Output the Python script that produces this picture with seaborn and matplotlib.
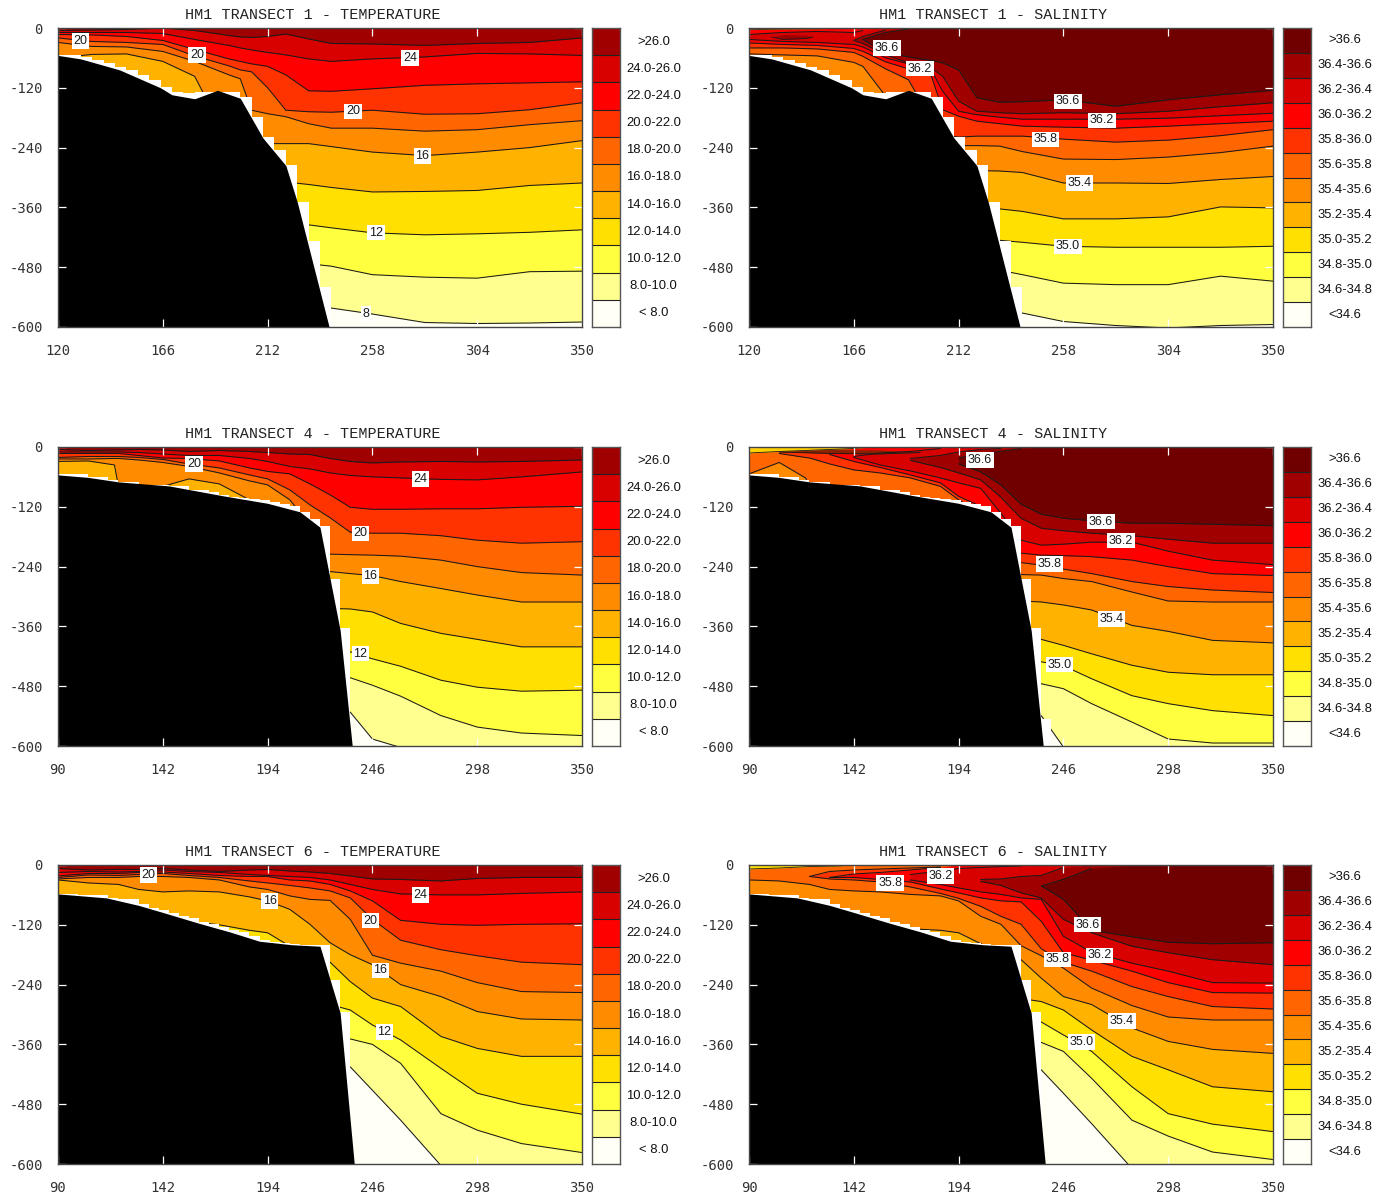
import numpy as np
import matplotlib
matplotlib.use("Agg")
import matplotlib.pyplot as plt
from matplotlib.colors import ListedColormap
import seaborn as sns

N = float("nan")
sns.set_theme(style="white")
plt.rcParams['font.family'] = ['Liberation Sans', 'DejaVu Sans']

# ---- colours / legend text
colors_sal = ['#fffff6', '#ffff90', '#ffff40', '#ffe000', '#ffb300', '#ff8c00',
              '#ff6600', '#ff3300', '#ff0000', '#d90000', '#a00000', '#700000']
colors_tem = colors_sal[:-1]
labels_tem = ['< 8.0', '8.0-10.0', '10.0-12.0', '12.0-14.0', '14.0-16.0', '16.0-18.0',
              '18.0-20.0', '20.0-22.0', '22.0-24.0', '24.0-26.0', '>26.0']
labels_sal = ['<34.6', '34.6-34.8', '34.8-35.0', '35.0-35.2', '35.2-35.4', '35.4-35.6',
              '35.6-35.8', '35.8-36.0', '36.0-36.2', '36.2-36.4', '36.4-36.6', '>36.6']

# ---- bathymetry (x, depth) and stepped model grid
bathy1_x = [120, 130, 147, 156, 165, 170, 180, 190, 200, 210, 220, 225, 239]
bathy1_d = [55, 62, 84, 102, 120, 134, 142, 125, 141, 221, 276, 349, 600]
grid1_x = [120, 130, 135, 140, 145, 150, 155, 160, 165, 170, 175, 180, 185, 190, 195, 200, 205, 210, 215, 220, 225, 230, 235, 240]
grid1_d = [55, 59, 64, 70, 78, 84, 94, 104, 119, 129, 131, 128, 128, 128, 128, 139, 179, 219, 244, 274, 349, 428, 519, 600]

bathy4_x = [90, 105, 120, 145, 172, 194, 210, 220, 230, 236]
bathy4_d = [56, 61, 70, 78, 98, 113, 130, 161, 368, 600]
grid4_x = [90, 105, 115, 120, 130, 145, 155, 165, 170, 175, 180, 185, 190, 195, 200, 205, 210, 215, 220, 225, 230, 235]
grid4_d = [55, 60, 67, 70, 76, 79, 86, 90, 96, 100, 102, 104, 106, 110, 114, 119, 130, 144, 159, 265, 364, 600]
grid4s_x = grid4_x + [240]
grid4s_d = grid4_d[:-1] + [545, 600]

bathy6_x = [90, 114, 130, 141, 160, 175, 190, 206, 220, 230, 237]
bathy6_d = [58, 66, 81, 94, 117, 134, 153, 160, 163, 297, 600]
grid6_x = [90, 100, 115, 120, 130, 135, 140, 145, 150, 155, 160, 165, 170, 175, 180, 185, 190, 195, 200, 205, 210, 215, 220, 225, 230, 235]
grid6_d = [58, 60, 66, 69, 79, 86, 91, 96, 103, 106, 115, 119, 124, 131, 135, 143, 151, 155, 156, 158, 160, 160, 160, 230, 295, 600]

# ---- transect 1 temperature
t1_x = [120, 135, 150, 166, 180, 195, 200, 205, 212, 220, 230, 240, 258, 281, 304, 327, 350]
t1_8 = [555] * 11 + [562, 574, 591, 593, 592, 590]
t1_10 = [473] * 11 + [478, 495, 500, 502, 489, 488]
t1_12 = [395] * 11 + [401, 411, 415, 413, 410, 405]
t1_14 = [309] * 10 + [314, 320, 329, 328, 326, 316, 311]
t1_16 = [60, 53, 52, 67, 97, 230, 230, 230, 232, 232, 232, 238, 249, 256, 249, 240, 226]
t1_18 = [29, 37, 38, 47, 67, 94, 102, 165, 172, 178, 192, 201, 201, 207, 204, 194, 186]
t1_20 = [20, 27, 29, 33, 56, 76, 84, 88, 120, 165, 168, 169, 165, 173, 172, 164, 150]
t1_22 = [13, 14, 17, 25, 43, 62, 67, 72, 77, 94, 126, 127, 122, 115, 112, 110, 108]
t1_24 = [9, 9, 9, 11, 23, 35, 40, 44, 49, 54, 62, 67, 62, 58, 51, 52, 55]
t1_26 = [5, 4, 3, 0, 5, 15, 18, 19, 17, 12, 22, 31, 32, 35, 31, 29, 20]

# ---- transect 1 salinity
s1_x = [120, 135, 150, 166, 170, 180, 190, 195, 200, 205, 212, 220, 230, 240, 258, 281, 304, 327, 350]
s1_346 = [572] * 13 + [572, 589, 597, 602, 597, 595]
s1_348 = [486] * 13 + [495, 512, 515, 515, 498, 508]
s1_350 = [426] * 13 + [430, 438, 440, 440, 440, 438]
s1_352 = [363] * 13 + [368, 383, 383, 379, 359, 361]
s1_354 = [286] * 12 + [287, 290, 311, 311, 312, 304, 298]
s1_356 = [52, 54, 56, 69, 77, 137, 184, 197, 211, 224, 236, 236, 237, 248, 263, 264, 259, 250, 237]
s1_358 = [40, 40, 42, 49, 57, 82, 104, 144, 184, 214, 219, 217, 217, 217, 223, 229, 225, 216, 204]
s1_360 = [30, 33, 35, 41, 47, 68, 82, 87, 96, 164, 177, 187, 192, 197, 199, 201, 197, 192, 187]
s1_362 = [23, 27, 29, 33, 38, 60, 72, 77, 84, 127, 167, 174, 179, 183, 183, 183, 181, 176, 171]
s1_362top = [13, 9, 7, 9, 5] + [0] * 14
s1_364 = [N, N, N, 25, 31, 54, 70, 74, 80, 97, 147, 167, 170, 172, 170, 172, 167, 158, 150]
s1_364top = [N, N, N, 25, 17, 4] + [0] * 13
s1_366 = [N, N, N, N, 23, 50, 58, 62, 65, 70, 84, 140, 149, 148, 144, 157, 144, 134, 125]
s1_366top = [N, N, N, N, 23, 9, 2] + [0] * 12
s1_lens1 = ([120, 135, 150, 166], [0, 0, 0, 0], [3, 2, 1.5, 0], '#e0c000')
s1_lens2 = ([130, 135, 145, 148], [18, 13, 14, 18], [18, 23, 21, 18], '#a00000')

# ---- transect 4 temperature
r2_x = [90, 105, 118, 120, 130, 142, 155, 170, 185, 194, 205, 215, 225, 235, 246, 260, 280, 298, 320, 350]
t4_8 = [532] * 14 + [586, 603, 640, 640, 640, 640]
t4_10 = [463] * 14 + [478, 500, 539, 562, 574, 579]
t4_12 = [411] * 14 + [425, 440, 468, 482, 490, 488]
t4_14 = [324] * 13 + [325, 331, 354, 374, 386, 401, 401]
t4_16 = [29, 28, 36, 79, 79, 79, 64, 74, 106, 150, 183, 217, 250, 254, 258, 270, 284, 297, 311, 311]
t4_18 = [24, 24, 23, 23, 26, 31, 39, 52, 68, 76, 106, 156, 215, 216, 217, 219, 227, 240, 252, 257]
t4_20 = [21, 19, 19, 19, 21, 25, 34, 42, 56, 64, 86, 116, 142, 171, 173, 173, 178, 187, 193, 190]
t4_22 = [13, 13, 13, 13, 17, 22, 23, 28, 42, 49, 54, 74, 96, 121, 125, 125, 124, 124, 121, 119]
t4_24 = [10, 10, 10, 10, 11, 14, 17, 17, 23, 29, 39, 44, 52, 57, 60, 62, 65, 66, 60, 50]
t4_26 = [5, 7, 6, 6, 5, 6, 9, 7, 9, 11, 14, 15, 23, 29, 32, 30, 29, 30, 29, 26]

# ---- transect 4 salinity
s4_346 = [539] * 14 + [602, 640, 640, 640, 640, 640]
s4_348 = [475] * 14 + [485, 515, 552, 586, 594, 594]
s4_350 = [431] * 14 + [439, 465, 499, 515, 529, 539]
s4_352 = [386] * 14 + [398, 415, 438, 452, 457, 457]
s4_354 = [309] * 13 + [311, 317, 327, 358, 370, 388, 393]
s4_356 = [54, 31, 62, 76, 89, 93, 96, 109, 123, 136, 156, 203, 256, 257, 264, 270, 291, 309, 311, 311]
s4_358 = [N, 13, 21, 22, 34, 46, 52, 62, 79, 106, 133, 183, 232, 237, 245, 254, 270, 280, 287, 292]
s4_360 = [N, N, N, N, 15, 29, 41, 56, 72, 99, 119, 156, 213, 217, 218, 220, 227, 240, 254, 258]
s4_362 = [N] * 5 + [21, 36, 48, 62, 72, 83, 133, 187, 197, 195, 191, 191, 209, 227, 236]
s4_362top = [N] * 5 + [19, 12, 9, 3] + [0] * 11
s4_364 = [N] * 7 + [27, 41, 52, 66, 101, 143, 163, 168, 173, 178, 185, 193, 193]
s4_364top = [N] * 7 + [23, 17, 10, 5, 3] + [0] * 8
s4_366 = [N] * 9 + [34, 50, 76, 115, 135, 143, 148, 153, 153, 155, 158]
s4_366top = [N] * 9 + [22, 13, 9, 3] + [0] * 7
s4_lens1 = ([90, 105, 130, 142, 150], [0, 0, 0, 0, 0], [12, 9, 5, 3, 0], '#ffd000')
s4_lens2 = ([105, 130, 155, 175], [9, 5, 6, 10], [10, 13, 14, 11], '#8a2000')

# ---- transect 6 temperature
r3_x = [90, 105, 120, 130, 142, 155, 170, 185, 194, 205, 215, 225, 235, 246, 260, 280, 298, 320, 350]
t6_8 = [405] * 13 + [452, 512, 603, 640, 640, 640]
t6_10 = [349] * 13 + [360, 398, 499, 532, 559, 577]
t6_12 = [280] * 12 + [291, 321, 351, 408, 458, 480, 500]
t6_14 = [62, 66, 76, 89, 99, 113, 120, 131, 136, 163, 170, 195, 234, 267, 284, 344, 368, 384, 384]
t6_16 = [30, 36, 39, 49, 54, 52, 54, 64, 72, 89, 119, 156, 180, 200, 240, 264, 294, 309, 311]
t6_18 = [28, 25, 25, 23, 23, 25, 30, 44, 49, 62, 69, 71, 109, 181, 197, 213, 236, 254, 256]
t6_20 = [25, 20, 21, 19, 17, 21, 25, 32, 36, 41, 46, 52, 66, 109, 151, 170, 182, 195, 200]
t6_22 = [22, 17, 17, 15, 14, 17, 21, 23, 23, 30, 32, 39, 52, 72, 111, 119, 121, 119, 118]
t6_24 = [15, 13, 14, 13, 10, 13, 15, 19, 21, 23, 25, 30, 39, 49, 58, 60, 60, 57, 54]
t6_26 = [7, 10, 9, 9, 7, 10, 13, 10, 9, 12, 14, 17, 22, 28, 29, 32, 27, 25, 25]

# ---- transect 6 salinity
s6_346 = [411] * 13 + [458, 519, 609, 640, 640, 640]
s6_348 = [356] * 13 + [374, 428, 512, 544, 576, 591]
s6_350 = [315] * 13 + [341, 374, 445, 499, 520, 535]
s6_352 = [268] * 12 + [274, 291, 331, 384, 411, 445, 455]
s6_354 = [66, 69, 83, 96, 109, 120, 128, 131, 136, 158, 173, 190, 227, 264, 280, 327, 354, 370, 378]
s6_356 = [30, 32, 39, 49, 52, 54, 59, 62, 72, 103, 119, 162, 182, 207, 247, 282, 305, 311, 311]
s6_358 = [N, N, 23, 28, 30, 34, 44, 57, 67, 83, 103, 119, 168, 195, 213, 244, 264, 284, 289]
s6_358top = [N, N, 23, 13, 10, 8, 6, 4] + [0] * 11
s6_360 = [N, N, N, 25, 25, 29, 34, 48, 56, 66, 72, 74, 113, 176, 191, 213, 236, 256, 257]
s6_360top = [N, N, N, 25, 18, 15, 10, 5] + [0] * 11
s6_362 = [N] * 6 + [30, 39, 46, 54, 59, 66, 69, 143, 175, 197, 213, 236, 237]
s6_362top = [N] * 6 + [19, 12, 7, 5, 3, 2] + [0] * 7
s6_364 = [N] * 9 + [33, 41, 56, 66, 109, 136, 163, 176, 190, 200]
s6_364top = [N] * 9 + [29, 28, 23, 21, 5] + [0] * 5
s6_366 = [N] * 12 + [42, 69, 131, 144, 155, 158, 156]
s6_366top = [N] * 12 + [42, 29, 7] + [0] * 4
s6_lens1 = ([90, 105, 120, 135, 142], [0, 0, 0, 0, 0], [8, 6, 3, 2, 0], '#ffe000')

# ---- contour labels (text, x, depth)
lab_t1 = [('20', 130, 26), ('20', 181, 54), ('24', 274.5, 60), ('20', 249.5, 167), ('16', 280, 257), ('12', 259.6, 411), ('8', 255, 574)]
lab_s1 = [('36.6', 180.6, 40), ('36.2', 195, 82), ('36.6', 260, 147), ('36.2', 275, 185), ('35.8', 250, 223), ('35.4', 265, 311), ('35.0', 260, 438)]
lab_t4 = [('20', 157.5, 34), ('24', 270, 64), ('20', 240, 173), ('16', 245, 259), ('12', 240, 415)]
lab_s4 = [('36.6', 204.6, 26), ('36.6', 264.6, 150), ('36.2', 274.5, 188), ('35.8', 239, 235), ('35.4', 270, 345), ('35.0', 244, 437)]
lab_t6 = [('20', 135, 20), ('16', 195, 72), ('24', 270, 60), ('20', 245, 112), ('16', 250, 211), ('12', 252, 335)]
lab_s6 = [('35.8', 160, 36), ('36.2', 185, 22), ('36.6', 258, 120), ('36.2', 264, 181), ('35.8', 243, 189), ('35.4', 275, 313), ('35.0', 255, 355)]

W, H = 1393, 1201
fig = plt.figure(figsize=(W / 100, H / 100), dpi=100, facecolor='white')


def add_axes(px0, py0, px1, py1):
    return fig.add_axes([px0 / W, 1 - py1 / H, (px1 - px0) / W, (py1 - py0) / H])


def panel(left, top, title, title_cx, x, levels, tops, colors, labels, xticks,
          bathy, grid, cont_labels, lenses=()):
    ax = add_axes(left, top, left + 524, top + 299)
    x = np.asarray(x, float)
    ax.set_facecolor(colors[0])
    for i, lev in enumerate(levels):
        low = -np.asarray(lev, float)
        up = -np.asarray(tops[i], float) if tops.get(i) is not None else np.zeros_like(low)
        ax.fill_between(x, up, low, where=~np.isnan(low), color=colors[i + 1], lw=0, zorder=1 + i * 0.01)
    for lx, lu, ll, lc in lenses:
        ax.fill_between(lx, -np.asarray(lu, float), -np.asarray(ll, float), color=lc, lw=0, zorder=1.5)
        sns.lineplot(x=lx, y=-np.asarray(ll, float), color='k', lw=0.6, ax=ax, estimator=None, sort=False, legend=False, zorder=2)
    for i, lev in enumerate(levels):
        sns.lineplot(x=x, y=-np.asarray(lev, float), color='k', lw=0.75, ax=ax, estimator=None,
                     sort=False, legend=False, zorder=2)
        if tops.get(i) is not None:
            tp = np.asarray(tops[i], float)
            tp = np.where(tp > 0, tp, np.nan)
            sns.lineplot(x=x, y=-tp, color='k', lw=0.75, ax=ax, estimator=None, sort=False, legend=False, zorder=2)
    ax.fill_between(grid[0], -np.asarray(grid[1], float), -640, step='post', color='white', lw=0, zorder=3)
    ax.fill_between(bathy[0], -np.asarray(bathy[1], float), -640, color='black', lw=0, zorder=4)
    for s, lx, ld in cont_labels:
        ax.text(lx, -ld, s, fontsize=9, ha='center', va='center', color='k', zorder=6,
                bbox=dict(facecolor='white', edgecolor='none', pad=1.2))
    ax.set_xlim(xticks[0], xticks[-1])
    ax.set_ylim(-600, 0)
    ax.set_xticks(xticks)
    ax.set_yticks([0, -120, -240, -360, -480, -600])
    ax.set_xlabel('')
    ax.set_ylabel('')
    ax.set_xticklabels([str(v) for v in xticks], family='DejaVu Sans Mono', fontsize=10, color='#333333')
    ax.set_yticklabels(['0', '-120', '-240', '-360', '-480', '-600'], family='DejaVu Sans Mono', fontsize=10, color='#333333')
    ax.tick_params(axis='both', direction='in', length=6, width=0.9, color='white',
                   top=True, right=True, bottom=True, left=True)
    ax.tick_params(axis='x', pad=12)
    ax.tick_params(axis='y', pad=11)
    ax.xaxis.set_zorder(7)
    ax.yaxis.set_zorder(7)
    for sp in ax.spines.values():
        sp.set_color('#444444')
        sp.set_linewidth(1.0)
        sp.set_zorder(8)
    ax.text((title_cx - left) / 524, 1 + 13 / 299, title, transform=ax.transAxes, ha='center', va='center',
            family='Liberation Mono', fontsize=10.9, color='#222222')
    # colour key
    cb = add_axes(left + 534, top, left + 562, top + 299)
    n = len(colors)
    sns.heatmap(np.arange(n)[::-1].reshape(-1, 1), cmap=ListedColormap(colors), vmin=0, vmax=n - 1, cbar=False,
                xticklabels=False, yticklabels=False, ax=cb)
    cb.hlines(np.arange(1, n), 0, 1, color='#222222', lw=0.8)
    for sp in cb.spines.values():
        sp.set_visible(True)
        sp.set_color('#555555')
        sp.set_linewidth(1.0)
    for j, lb in enumerate(labels[::-1]):
        cb.text(2.2, j + 0.5, lb, transform=cb.get_yaxis_transform(), ha='center', va='center',
                fontsize=9.4, color='#111111')


xt1 = [120, 166, 212, 258, 304, 350]
xt2 = [90, 142, 194, 246, 298, 350]
LT, LS = 58, 749

panel(LT, 28, 'HM1 TRANSECT 1 - TEMPERATURE', 313, t1_x,
      [t1_8, t1_10, t1_12, t1_14, t1_16, t1_18, t1_20, t1_22, t1_24, t1_26], {},
      colors_tem, labels_tem, xt1, (bathy1_x, bathy1_d), (grid1_x, grid1_d), lab_t1)
panel(LS, 28, 'HM1 TRANSECT 1 - SALINITY', 993, s1_x,
      [s1_346, s1_348, s1_350, s1_352, s1_354, s1_356, s1_358, s1_360, s1_362, s1_364, s1_366],
      {8: s1_362top, 9: s1_364top, 10: s1_366top},
      colors_sal, labels_sal, xt1, (bathy1_x, bathy1_d), (grid1_x, grid1_d), lab_s1, [s1_lens1, s1_lens2])
panel(LT, 447, 'HM1 TRANSECT 4 - TEMPERATURE', 313, r2_x,
      [t4_8, t4_10, t4_12, t4_14, t4_16, t4_18, t4_20, t4_22, t4_24, t4_26], {},
      colors_tem, labels_tem, xt2, (bathy4_x, bathy4_d), (grid4_x, grid4_d), lab_t4)
panel(LS, 447, 'HM1 TRANSECT 4 - SALINITY', 993, r2_x,
      [s4_346, s4_348, s4_350, s4_352, s4_354, s4_356, s4_358, s4_360, s4_362, s4_364, s4_366],
      {8: s4_362top, 9: s4_364top, 10: s4_366top},
      colors_sal, labels_sal, xt2, (bathy4_x, bathy4_d), (grid4s_x, grid4s_d), lab_s4, [s4_lens1, s4_lens2])
panel(LT, 865, 'HM1 TRANSECT 6 - TEMPERATURE', 313, r3_x,
      [t6_8, t6_10, t6_12, t6_14, t6_16, t6_18, t6_20, t6_22, t6_24, t6_26], {},
      colors_tem, labels_tem, xt2, (bathy6_x, bathy6_d), (grid6_x, grid6_d), lab_t6)
panel(LS, 865, 'HM1 TRANSECT 6 - SALINITY', 993, r3_x,
      [s6_346, s6_348, s6_350, s6_352, s6_354, s6_356, s6_358, s6_360, s6_362, s6_364, s6_366],
      {6: s6_358top, 7: s6_360top, 8: s6_362top, 9: s6_364top, 10: s6_366top},
      colors_sal, labels_sal, xt2, (bathy6_x, bathy6_d), (grid6_x, grid6_d), lab_s6, [s6_lens1])

fig.savefig('out.png', dpi=100, facecolor='white')
